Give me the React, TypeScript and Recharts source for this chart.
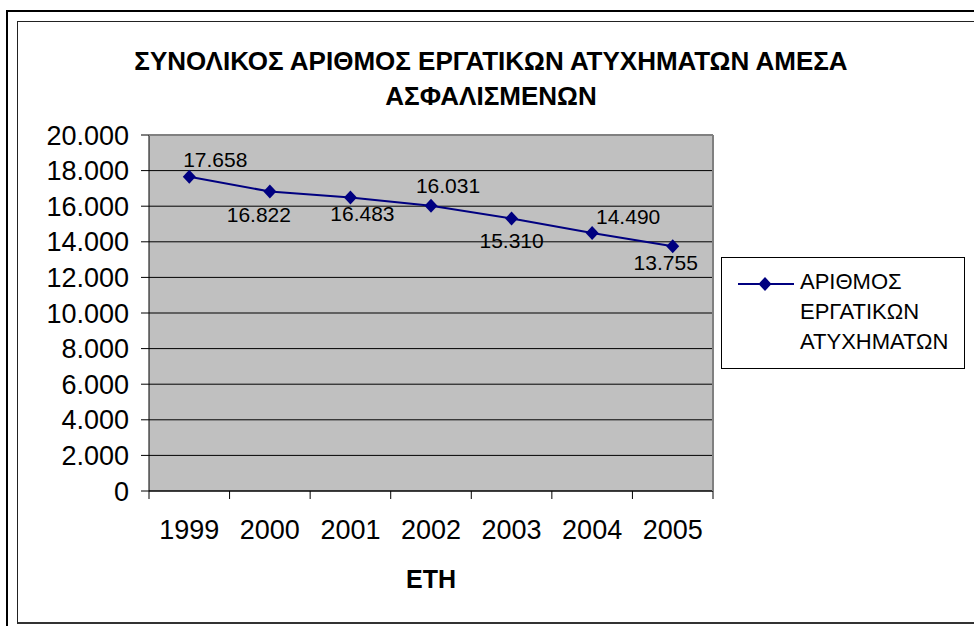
import { CartesianGrid, Label, LabelList, Legend, Line, LineChart, XAxis, YAxis } from 'recharts'

const years = ['1999', '2000', '2001', '2002', '2003', '2004', '2005']
const accidents = [17658, 16822, 16483, 16031, 15310, 14490, 13755]
const yTicks = [0, 2000, 4000, 6000, 8000, 10000, 12000, 14000, 16000, 18000, 20000]
const seriesName = 'ΑΡΙΘΜΟΣ ΕΡΓΑΤΙΚΩΝ ΑΤΥΧΗΜΑΤΩΝ'
const titleLines = ['ΣΥΝΟΛΙΚΟΣ ΑΡΙΘΜΟΣ ΕΡΓΑΤΙΚΩΝ ΑΤΥΧΗΜΑΤΩΝ ΑΜΕΣΑ', 'ΑΣΦΑΛΙΣΜΕΝΩΝ']
const xTitle = 'ΕΤΗ'

// hand-placed data labels in the original, offset from each point
const labelNudge = [
    [26, -17],
    [-11, 23],
    [12, 16],
    [17, -20],
    [0, 22],
    [36, -17],
    [-7, 16],
]

const data = years.map((year, i) => ({ year, value: accidents[i] }))

const W = 974
const H = 626
const PLOT_L = 149
const PLOT_T = 135
const PLOT_R = 713
const PLOT_B = 491
const X_AXIS_H = 1
const BAND = (PLOT_R - PLOT_L) / years.length
const NAVY = '#000080'
const FONT = '"Liberation Sans", Arial, sans-serif'

const fmt = (v: number) => String(v).replace(/\B(?=(\d{3})+(?!\d))/g, '.')

const Diamond = (props: any) => {
    const { cx, cy, index } = props
    if (cx == null || cy == null) return <g key={index} />
    return (
        <polygon
            key={index}
            points={`${cx},${cy - 7} ${cx + 6.5},${cy} ${cx},${cy + 7} ${cx - 6.5},${cy}`}
            fill={NAVY}
        />
    )
}

const XTick = (props: any) => {
    const { x, y, payload, index, visibleTicksCount } = props
    const axisY = PLOT_B
    const left = x - BAND / 2
    const right = x + BAND / 2
    return (
        <g>
            <line x1={left} x2={left} y1={axisY} y2={axisY + 8} stroke="#000" />
            {index === visibleTicksCount - 1 && (
                <line x1={right} x2={right} y1={axisY} y2={axisY + 8} stroke="#000" />
            )}
            <text x={x} y={y} dy="0.71em" textAnchor="middle" fontSize={27} fill="#000" fontFamily={FONT}>
                {payload.value}
            </text>
        </g>
    )
}

const DataLabel = (props: any) => {
    const vb = props.viewBox || props
    const i = props.index ?? 0
    const [dx, dy] = labelNudge[i] || [0, -18]
    return (
        <text
            x={vb.x + dx}
            y={vb.y + dy}
            dy="0.36em"
            textAnchor="middle"
            fontSize={21}
            fill="#000"
            fontFamily={FONT}
        >
            {fmt(Number(props.value))}
        </text>
    )
}

const LegendBox = (props: any) => {
    const name = props.payload?.[0]?.value ?? seriesName
    return (
        <div
            style={{
                position: 'relative',
                width: 244,
                height: 112,
                boxSizing: 'border-box',
                border: '1px solid #000',
                background: '#fff',
                fontFamily: FONT,
            }}
        >
            <svg width={64} height={40} style={{ position: 'absolute', left: 16, top: 6 }}>
                <line x1={0} x2={56} y1={20} y2={20} stroke={NAVY} strokeWidth={2} />
                <polygon points="27,13 33.5,20 27,27 20.5,20" fill={NAVY} />
            </svg>
            <div
                style={{
                    position: 'absolute',
                    left: 78,
                    top: 9,
                    fontSize: 22,
                    lineHeight: '30px',
                    color: '#000',
                }}
            >
                {String(name)
                    .split(' ')
                    .map((w) => (
                        <div key={w}>{w}</div>
                    ))}
            </div>
        </div>
    )
}

export default function App() {
    return (
        <div
            style={{
                position: 'absolute',
                left: 0,
                top: 0,
                width: W,
                height: H,
                overflow: 'hidden',
                background: '#fff',
                fontFamily: FONT,
            }}
        >
            <div
                style={{
                    position: 'absolute',
                    left: 6,
                    top: 10,
                    width: 1100,
                    height: 1100,
                    border: '2px solid #000',
                }}
            />
            <div
                style={{
                    position: 'absolute',
                    left: 17,
                    top: 21,
                    width: 1100,
                    height: 600,
                    border: '1px solid #222',
                    borderBottom: '2px solid #333',
                }}
            />
            <div
                style={{
                    position: 'absolute',
                    left: 0,
                    top: 44,
                    width: 982,
                    textAlign: 'center',
                    fontSize: 26,
                    fontWeight: 'bold',
                    lineHeight: '35px',
                    color: '#000',
                }}
            >
                {titleLines.map((t) => (
                    <div key={t}>{t}</div>
                ))}
            </div>
            <div style={{ position: 'absolute', left: 0, top: 0 }}>
                <LineChart
                    width={W}
                    height={H}
                    data={data}
                    margin={{
                        top: PLOT_T,
                        right: W - PLOT_R,
                        bottom: H - PLOT_B - X_AXIS_H,
                        left: PLOT_L - 60,
                    }}
                >
                    <CartesianGrid vertical={false} stroke="#000" fill="#C0C0C0" fillOpacity={1} />
                    <XAxis
                        dataKey="year"
                        scale="band"
                        height={X_AXIS_H}
                        interval={0}
                        tickLine={false}
                        tickSize={8}
                        tickMargin={21}
                        axisLine={{ stroke: '#000' }}
                        tick={<XTick />}
                    >
                        <Label
                            value={xTitle}
                            position="bottom"
                            offset={78}
                            style={{ fontSize: 25, fontWeight: 'bold', fill: '#000', fontFamily: FONT }}
                        />
                    </XAxis>
                    <YAxis
                        width={60}
                        domain={[0, 20000]}
                        ticks={yTicks}
                        interval={0}
                        tickSize={8}
                        tickMargin={12}
                        tickFormatter={fmt}
                        axisLine={{ stroke: '#000' }}
                        tickLine={{ stroke: '#000' }}
                        tick={{ fontSize: 27, fill: '#000', fontFamily: FONT }}
                    />
                    <Legend
                        layout="vertical"
                        align="center"
                        verticalAlign="middle"
                        wrapperStyle={{ left: 721, top: 257, width: 244, height: 112 }}
                        content={<LegendBox />}
                    />
                    <Line
                        type="linear"
                        dataKey="value"
                        name={seriesName}
                        stroke={NAVY}
                        strokeWidth={2}
                        dot={Diamond}
                        activeDot={false}
                        isAnimationActive={false}
                    >
                        <LabelList dataKey="value" content={<DataLabel />} />
                    </Line>
                </LineChart>
            </div>
            <div
                style={{
                    position: 'absolute',
                    left: PLOT_L,
                    top: PLOT_T,
                    width: PLOT_R - PLOT_L + 1,
                    height: PLOT_B - PLOT_T,
                    boxSizing: 'border-box',
                    borderTop: '1px solid #808080',
                    borderRight: '2px solid #808080',
                    pointerEvents: 'none',
                }}
            />
        </div>
    )
}
